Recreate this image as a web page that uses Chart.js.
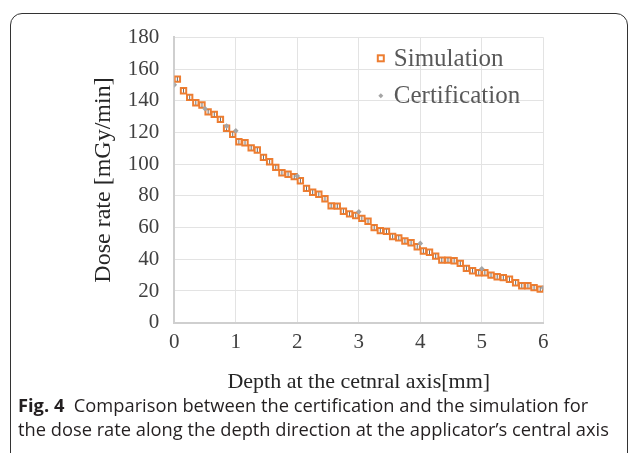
<!DOCTYPE html>
<html>
<head>
<meta charset="utf-8">
<script src="https://cdn.jsdelivr.net/npm/chart.js@4.4.1/dist/chart.umd.min.js"></script>
<style>
    html, body { margin: 0; padding: 0; background: #fff; }
    body { width: 629px; height: 453px; position: relative; overflow: hidden; }
    #frame {
        position: absolute; left: 10px; top: 13px;
        width: 616px; height: 520px;
        border: 1.5px solid #333; border-radius: 12px;
    }
    #wrap { position: absolute; left: 0; top: 0; width: 629px; height: 453px; }
    #caption {
        position: absolute; left: 18px; top: 393px;
        font-family: 'Open Sans', Lato, sans-serif; font-size: 18.3px; line-height: 24px;
        color: #231f20; white-space: nowrap;
    }
    #caption b { font-weight: 700; }
</style>
</head>
<body>
<div id="frame"></div>
<div id="wrap"><canvas id="doseChart" width="629" height="453"></canvas></div>
<div id="caption"><b>Fig. 4</b>&nbsp; Comparison between the certification and the simulation for<br>the dose rate along the depth direction at the applicator’s central axis</div>

<script>
// Simulation (Monte Carlo) - depth bins in mm
const simDepth = [
    0.05, 0.15, 0.25, 0.35, 0.45, 0.55, 0.65, 0.75, 0.85, 0.95,
    1.05, 1.15, 1.25, 1.35, 1.45, 1.55, 1.65, 1.75, 1.85, 1.95,
    2.05, 2.15, 2.25, 2.35, 2.45, 2.55, 2.65, 2.75, 2.85, 2.95,
    3.05, 3.15, 3.25, 3.35, 3.45, 3.55, 3.65, 3.75, 3.85, 3.95,
    4.05, 4.15, 4.25, 4.35, 4.45, 4.55, 4.65, 4.75, 4.85, 4.95,
    5.05, 5.15, 5.25, 5.35, 5.45, 5.55, 5.65, 5.75, 5.85, 5.95
];
const simDose = [
    153.6, 146.3, 142.1, 138.7, 137.3, 133.0, 131.4, 128.2, 122.6, 118.8,
    114.1, 113.5, 110.3, 108.9, 104.3, 101.5, 98.0, 94.6, 93.6, 92.1,
    89.5, 84.7, 82.3, 81.0, 78.2, 73.7, 73.5, 70.3, 68.6, 67.6,
    65.8, 64.0, 60.0, 58.1, 57.6, 54.4, 53.5, 51.5, 50.4, 47.9,
    45.2, 44.4, 42.0, 39.5, 39.5, 39.1, 37.4, 34.3, 32.8, 31.5,
    31.5, 30.0, 29.0, 28.4, 27.4, 25.2, 23.3, 23.3, 22.1, 21.2
];

// Certification measurements
const certDepth = [0, 0.5, 0.85, 1, 2, 3, 4, 5, 6];
const certDose = [150, 135, 124, 121, 92.5, 70, 50, 34, 22];

// Axis ticks
const xTicks = [0, 1, 2, 3, 4, 5, 6];
const yTicks = [0, 20, 40, 60, 80, 100, 120, 140, 160, 180];

const seriesNames = ['Simulation', 'Certification'];

const ORANGE = '#ED7D31';
const GRAY = '#A5A5A5';
const SERIF = "'Liberation Serif', 'Times New Roman', serif";

function toPoints(xs, ys) {
    return xs.map((x, i) => ({ x: x, y: ys[i] }));
}

// Legend drawn inside the plot area (top right)
const insideLegend = {
    id: 'insideLegend',
    afterDraw(chart) {
        const { ctx, chartArea } = chart;
        const mx = chartArea.left + 206.5;
        const tx = chartArea.left + 219.5;
        const rows = [chartArea.top + 21, chartArea.top + 58.5];

        ctx.save();
        // square marker
        ctx.lineWidth = 2;
        ctx.strokeStyle = ORANGE;
        ctx.fillStyle = '#fff';
        ctx.fillRect(mx - 3, rows[0] - 3, 6, 6);
        ctx.strokeRect(mx - 3, rows[0] - 3, 6, 6);
        // diamond marker
        ctx.fillStyle = GRAY;
        ctx.beginPath();
        ctx.moveTo(mx, rows[1] - 2.5);
        ctx.lineTo(mx + 2.5, rows[1]);
        ctx.lineTo(mx, rows[1] + 2.5);
        ctx.lineTo(mx - 2.5, rows[1]);
        ctx.closePath();
        ctx.fill();

        ctx.font = '25px ' + SERIF;
        ctx.fillStyle = '#595959';
        ctx.textBaseline = 'middle';
        ctx.textAlign = 'left';
        ctx.fillText(seriesNames[0], tx, rows[0] + 1);
        ctx.fillText(seriesNames[1], tx, rows[1] + 1);
        ctx.restore();
    }
};

const ctx = document.getElementById('doseChart').getContext('2d');
new Chart(ctx, {
    type: 'scatter',
    data: {
        datasets: [
            {
                label: seriesNames[1],
                data: toPoints(certDepth, certDose),
                pointStyle: 'rectRot',
                pointRadius: 2.8,
                borderWidth: 0,
                backgroundColor: GRAY,
                borderColor: GRAY,
                order: 0
            },
            {
                label: 'error',
                data: toPoints(simDepth, simDose),
                pointStyle: 'line',
                rotation: 90,
                pointRadius: 2,
                borderWidth: 1,
                borderColor: '#6b6b6b',
                order: 1
            },
            {
                label: seriesNames[0],
                data: toPoints(simDepth, simDose),
                pointStyle: 'rect',
                pointRadius: 3.8,
                borderWidth: 2,
                borderColor: ORANGE,
                backgroundColor: '#fff',
                order: 2
            }
        ]
    },
    options: {
        responsive: false,
        animation: false,
        events: [],
        layout: { padding: { left: 0, right: 85.7, top: 37.3, bottom: 58 } },
        plugins: {
            legend: { display: false },
            tooltip: { enabled: false }
        },
        scales: {
            x: {
                type: 'linear',
                min: 0,
                max: 6,
                afterBuildTicks: (scale) => { scale.ticks = xTicks.map(v => ({ value: v })); },
                afterFit: (scale) => { scale.height = 72.3; },
                ticks: {
                    font: { family: SERIF, size: 21 },
                    color: '#404040',
                    padding: 7
                },
                grid: { color: '#e3e3e3', lineWidth: 1, drawTicks: false },
                border: { color: '#cfcfcf', width: 2 },
                title: {
                    display: true,
                    text: 'Depth at the cetnral axis[mm]',
                    font: { family: SERIF, size: 22 },
                    color: '#262626',
                    padding: { top: 0, bottom: 0 }
                }
            },
            y: {
                min: 0,
                max: 180,
                afterBuildTicks: (scale) => { scale.ticks = yTicks.map(v => ({ value: v })); },
                afterFit: (scale) => { scale.width = 174.3; },
                ticks: {
                    font: { family: SERIF, size: 21 },
                    color: '#404040',
                    padding: 15
                },
                grid: { color: '#e3e3e3', lineWidth: 1, drawTicks: false },
                border: { color: '#cfcfcf', width: 2 },
                title: {
                    display: true,
                    text: 'Dose rate [mGy/min]',
                    font: { family: SERIF, size: 24 },
                    color: '#262626',
                    padding: { top: 89, bottom: 0 }
                }
            }
        }
    },
    plugins: [insideLegend]
});
</script>
</body>
</html>
